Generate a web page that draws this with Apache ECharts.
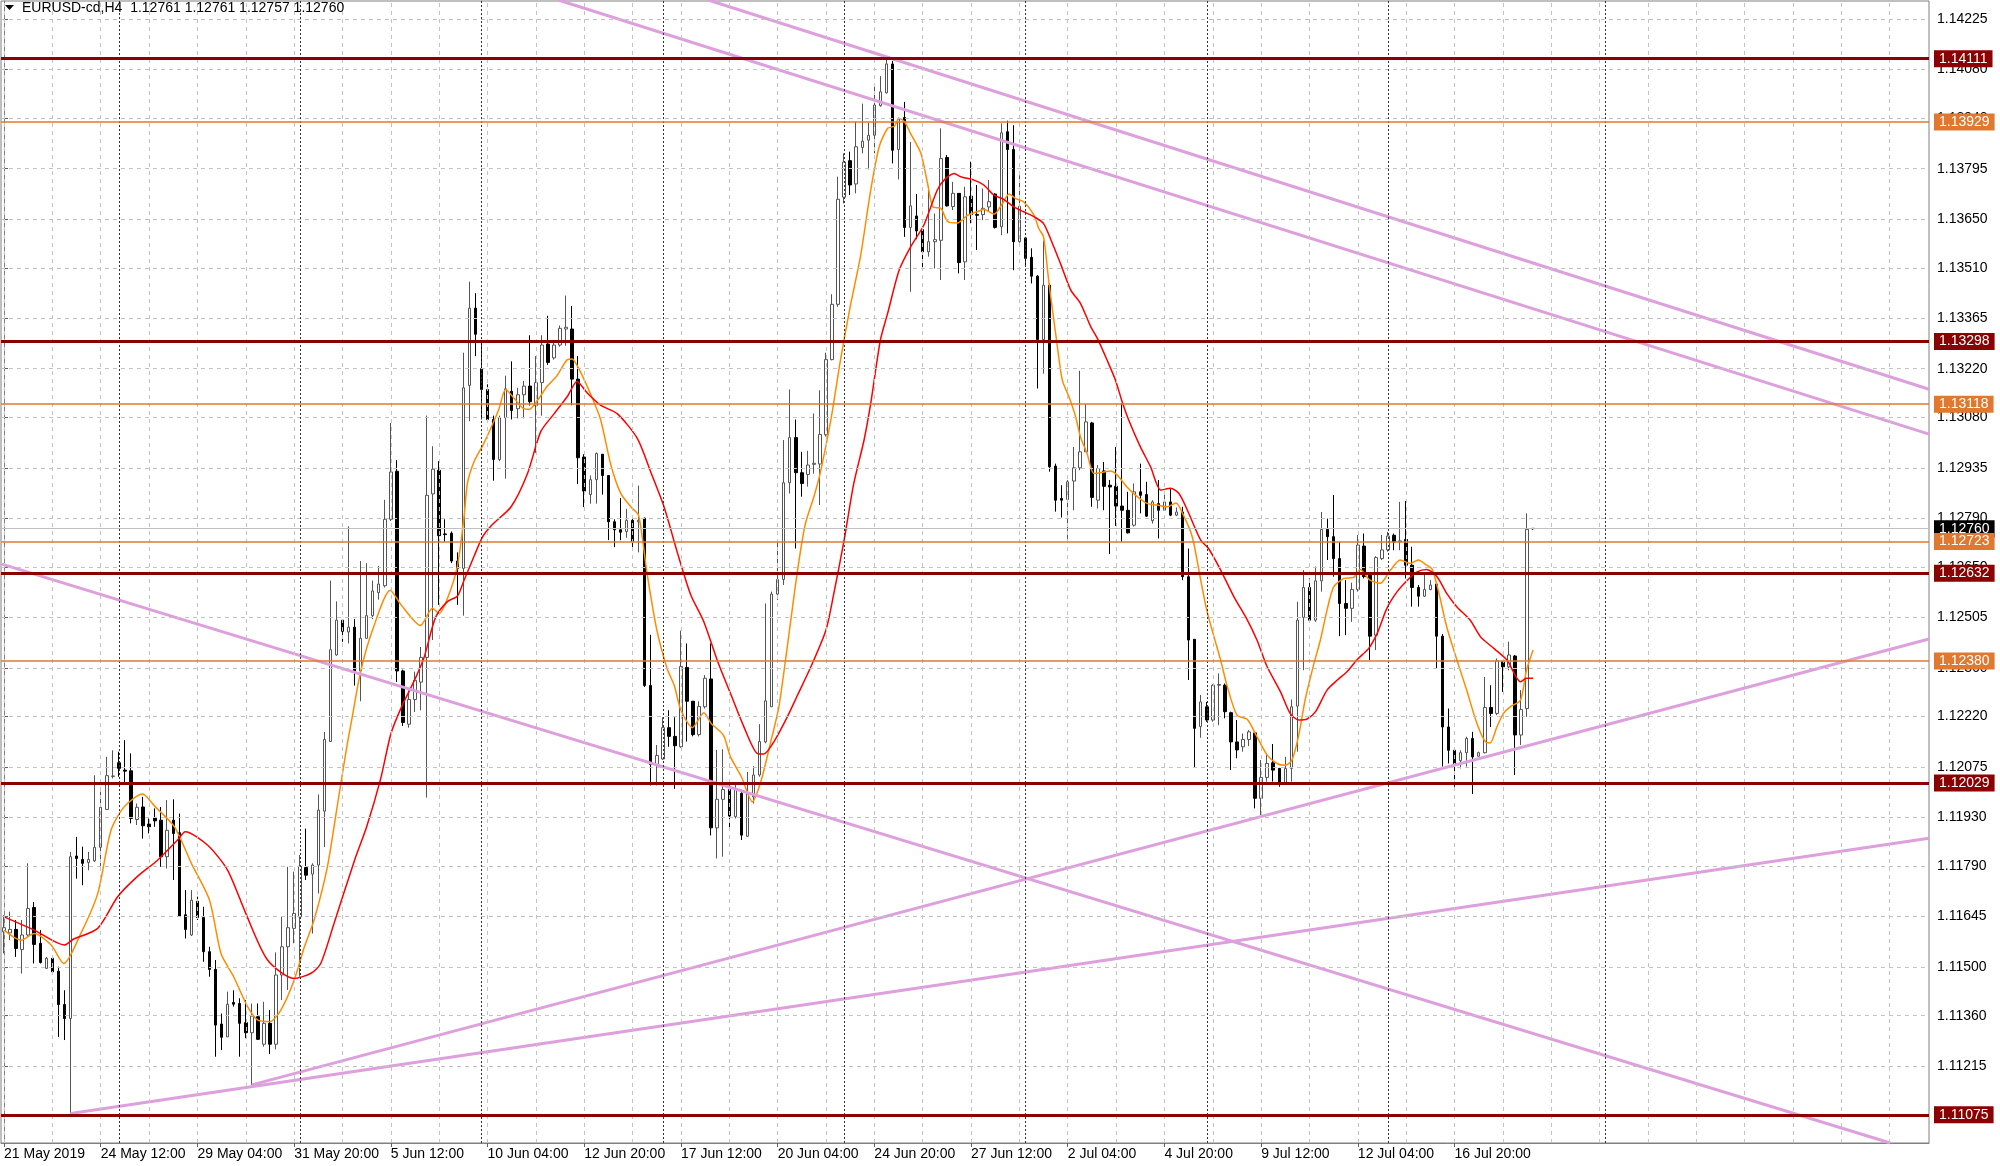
<!DOCTYPE html>
<html><head><meta charset="utf-8">
<script src="https://cdn.jsdelivr.net/npm/echarts@6/dist/echarts.min.js"></script>
<style>html,body{margin:0;padding:0;background:#fff}#c{width:2000px;height:1166px}</style>
</head><body><div id="c"></div>
<script>
// ---- data (EURUSD-cd, H4) ----
const symbolName = 'EURUSD-cd,H4';
const open = [
1.11601,1.11598,1.11608,1.11550,1.11592,1.11671,1.11568,1.11496,1.11525,1.11488,
1.11392,1.11352,1.11819,1.11809,1.11800,1.11805,1.11844,1.11953,1.12048,1.12087,
1.12066,1.12064,1.11924,1.11960,1.11911,1.11930,1.11922,1.11817,1.11922,1.11886,
1.11650,1.11592,1.11689,1.11642,1.11544,1.11493,1.11336,1.11299,1.11398,1.11395,
1.11340,1.11311,1.11357,1.11278,1.11338,1.11278,1.11477,1.11558,1.11611,1.11644,
1.11786,1.11767,1.11793,1.11948,1.12148,1.12397,1.12497,1.12463,1.12477,1.12351,
1.12445,1.12510,1.12576,1.12596,1.12787,1.12925,1.12351,1.12198,1.12269,1.12319,
1.12390,1.12860,1.12928,1.12745,1.12747,1.12667,1.12646,1.13172,1.13394,1.13220,
1.13160,1.13074,1.12959,1.13079,1.13155,1.13105,1.13145,1.13170,1.13114,1.13180,
1.13291,1.13251,1.13288,1.13334,1.13334,1.13190,1.12966,1.12858,1.12901,1.12974,
1.12913,1.12780,1.12757,1.12752,1.12784,1.12780,1.12790,1.12309,1.12082,1.12098,
1.12188,1.12163,1.12133,1.12361,1.12264,1.12168,1.12248,1.12328,1.11900,1.11982,
1.12010,1.11932,1.11999,1.11876,1.11989,1.12052,1.12147,1.12248,1.12572,1.12614,
1.12892,1.13022,1.12921,1.12916,1.12945,1.12946,1.13030,1.13246,1.13405,1.13713,
1.13818,1.13751,1.13856,1.13877,1.13891,1.13976,1.14013,1.14096,1.13850,1.13942,
1.13626,1.13659,1.13620,1.13556,1.13585,1.13589,1.13827,1.13686,1.13724,1.13527,
1.13716,1.13663,1.13663,1.13685,1.13722,1.13628,1.13901,1.13850,1.13585,1.13596,
1.13540,1.13486,1.13304,1.13460,1.12940,1.12847,1.12844,1.12897,1.12935,1.12981,
1.13064,1.12842,1.12926,1.12885,1.12882,1.12825,1.12813,1.12770,1.12866,1.12858,
1.12783,1.12832,1.12813,1.12837,1.12799,1.12808,1.12622,1.12442,1.12191,1.12248,
1.12210,1.12310,1.12310,1.12231,1.12147,1.12133,1.12154,1.12173,1.11985,1.12045,
1.12087,1.12071,1.12028,1.12071,1.12250,1.12505,1.12591,1.12497,1.12610,1.12758,
1.12737,1.12674,1.12545,1.12531,1.12585,1.12710,1.12627,1.12454,1.12674,1.12699,
1.12741,1.12722,1.12729,1.12655,1.12591,1.12566,1.12585,1.12601,1.12451,1.12190,
1.12123,1.12093,1.12116,1.12157,1.12106,1.12116,1.12246,1.12229,1.12377,1.12363,
1.12394,1.12167,1.12243,1.12761];
const high = [
1.11649,1.11659,1.11635,1.11635,1.11798,1.11687,1.11606,1.11529,1.11529,1.11501,
1.11433,1.11831,1.11874,1.11846,1.11831,1.12051,1.12004,1.12104,1.12123,1.12119,
1.12152,1.12114,1.11970,1.11989,1.11927,1.11956,1.11960,1.11980,1.11982,1.11941,
1.11721,1.11721,1.11702,1.11673,1.11558,1.11520,1.11366,1.11429,1.11433,1.11410,
1.11405,1.11395,1.11395,1.11400,1.11376,1.11542,1.11644,1.11788,1.11774,1.11822,
1.11898,1.11798,1.11996,1.12176,1.12611,1.12551,1.12500,1.12767,1.12500,1.12667,
1.12661,1.12611,1.12653,1.12843,1.13064,1.12957,1.12355,1.12294,1.12349,1.12420,
1.13085,1.12997,1.12954,1.12787,1.12752,1.12692,1.13266,1.13470,1.13437,1.13301,
1.13175,1.13085,1.13085,1.13200,1.13241,1.13165,1.13185,1.13316,1.13256,1.13316,
1.13372,1.13301,1.13344,1.13430,1.13400,1.13256,1.12974,1.12913,1.12979,1.12974,
1.12913,1.12787,1.12848,1.12817,1.12792,1.12884,1.12792,1.12455,1.12138,1.12218,
1.12238,1.12218,1.12467,1.12430,1.12264,1.12264,1.12339,1.12430,1.12124,1.12126,
1.12039,1.12023,1.12009,1.12061,1.12077,1.12198,1.12545,1.12579,1.12722,1.13015,
1.13160,1.13074,1.12981,1.12984,1.13091,1.13158,1.13266,1.13434,1.13772,1.13839,
1.13844,1.13930,1.13982,1.13927,1.14038,1.14061,1.14117,1.14105,1.13942,1.13987,
1.13872,1.13722,1.13628,1.13735,1.13666,1.13911,1.13834,1.13757,1.13724,1.13743,
1.13815,1.13748,1.13738,1.13762,1.13724,1.13925,1.13933,1.13920,1.13776,1.13599,
1.13566,1.13489,1.13588,1.13465,1.12947,1.12885,1.12900,1.12995,1.13214,1.13118,
1.13067,1.12943,1.12952,1.12900,1.12995,1.13120,1.12866,1.12890,1.12947,1.12895,
1.12842,1.12900,1.12861,1.12876,1.12821,1.12823,1.12703,1.12442,1.12282,1.12262,
1.12313,1.12344,1.12315,1.12234,1.12210,1.12171,1.12181,1.12176,1.12095,1.12109,
1.12141,1.12071,1.12104,1.12269,1.12550,1.12641,1.12617,1.12651,1.12808,1.12789,
1.12857,1.12722,1.12612,1.12605,1.12742,1.12746,1.12627,1.12681,1.12742,1.12751,
1.12746,1.12837,1.12840,1.12708,1.12598,1.12631,1.12612,1.12607,1.12457,1.12243,
1.12123,1.12123,1.12162,1.12176,1.12119,1.12334,1.12310,1.12387,1.12380,1.12435,
1.12397,1.12296,1.12804,1.12761];
const low = [
1.11539,1.11577,1.11529,1.11481,1.11587,1.11510,1.11510,1.11496,1.11481,1.11299,
1.11290,1.11079,1.11754,1.11735,1.11778,1.11802,1.11778,1.11951,1.12042,1.12047,
1.12032,1.11913,1.11908,1.11869,1.11884,1.11903,1.11788,1.11783,1.11750,1.11644,
1.11582,1.11589,1.11635,1.11515,1.11472,1.11242,1.11261,1.11299,1.11386,1.11242,
1.11295,1.11161,1.11290,1.11271,1.11250,1.11263,1.11405,1.11434,1.11568,1.11472,
1.11750,1.11596,1.11711,1.11845,1.12147,1.12395,1.12435,1.12430,1.12309,1.12264,
1.12445,1.12500,1.12556,1.12591,1.12782,1.12319,1.12193,1.12188,1.12233,1.12238,
1.11987,1.12440,1.12541,1.12722,1.12661,1.12541,1.12510,1.13069,1.13256,1.13074,
1.13069,1.12898,1.12954,1.12904,1.13074,1.13077,1.13077,1.13114,1.12978,1.13085,
1.13231,1.13246,1.13283,1.13286,1.13115,1.12888,1.12822,1.12832,1.12832,1.12858,
1.12727,1.12707,1.12727,1.12734,1.12697,1.12692,1.12305,1.12022,1.12022,1.12096,
1.12133,1.12012,1.12130,1.12148,1.12163,1.12163,1.12243,1.11878,1.11812,1.11817,
1.11901,1.11927,1.11865,1.11874,1.11970,1.12047,1.12143,1.12248,1.12555,1.12598,
1.12861,1.12703,1.12852,1.12881,1.12918,1.12828,1.13025,1.13244,1.13398,1.13695,
1.13719,1.13724,1.13839,1.13793,1.13839,1.13973,1.14011,1.13810,1.13764,1.13599,
1.13441,1.13592,1.13508,1.13542,1.13508,1.13475,1.13686,1.13676,1.13494,1.13475,
1.13638,1.13561,1.13647,1.13671,1.13623,1.13604,1.13609,1.13503,1.13582,1.13518,
1.13465,1.13163,1.13206,1.12924,1.12809,1.12792,1.12727,1.12813,1.12928,1.12981,
1.12823,1.12818,1.12813,1.12687,1.12768,1.12722,1.12746,1.12766,1.12804,1.12794,
1.12775,1.12732,1.12811,1.12796,1.12796,1.12612,1.12325,1.12074,1.12159,1.12205,
1.12205,1.12195,1.12215,1.12066,1.12100,1.12119,1.12135,1.11956,1.11937,1.12033,
1.12033,1.12018,1.12028,1.12033,1.12119,1.12353,1.12492,1.12492,1.12579,1.12670,
1.12622,1.12451,1.12454,1.12492,1.12579,1.12617,1.12382,1.12411,1.12670,1.12694,
1.12698,1.12698,1.12617,1.12536,1.12536,1.12564,1.12583,1.12358,1.12076,1.12085,
1.12018,1.12071,1.12076,1.11997,1.12104,1.12114,1.12190,1.12224,1.12291,1.12353,
1.12052,1.12138,1.12219,1.12757];
const close = [
1.11613,1.11608,1.11553,1.11592,1.11668,1.11565,1.11513,1.11525,1.11486,1.11392,
1.11352,1.11817,1.11812,1.11798,1.11809,1.11844,1.11959,1.12050,1.12049,1.12071,
1.12063,1.11927,1.11959,1.11906,1.11903,1.11920,1.11817,1.11893,1.11884,1.11646,
1.11608,1.11692,1.11642,1.11544,1.11493,1.11333,1.11298,1.11393,1.11393,1.11338,
1.11311,1.11359,1.11292,1.11338,1.11278,1.11477,1.11558,1.11613,1.11654,1.11790,
1.11764,1.11793,1.11951,1.12154,1.12412,1.12497,1.12465,1.12477,1.12351,1.12445,
1.12510,1.12581,1.12601,1.12787,1.12923,1.12351,1.12203,1.12269,1.12324,1.12390,
1.12856,1.12931,1.12740,1.12743,1.12667,1.12646,1.13165,1.13394,1.13319,1.13160,
1.13074,1.12959,1.13079,1.13162,1.13100,1.13145,1.13170,1.13125,1.13180,1.13288,
1.13238,1.13288,1.13336,1.13339,1.13190,1.12964,1.12868,1.12901,1.12976,1.12913,
1.12780,1.12757,1.12750,1.12784,1.12723,1.12784,1.12309,1.12082,1.12108,1.12188,
1.12163,1.12136,1.12364,1.12264,1.12168,1.12249,1.12330,1.11900,1.11982,1.12010,
1.11934,1.12010,1.11879,1.11999,1.12052,1.12148,1.12265,1.12572,1.12614,1.12892,
1.13022,1.12921,1.12890,1.12943,1.12948,1.13031,1.13246,1.13405,1.13707,1.13814,
1.13748,1.13858,1.13874,1.13891,1.13978,1.14016,1.14096,1.13848,1.13938,1.13626,
1.13688,1.13616,1.13556,1.13585,1.13591,1.13824,1.13688,1.13724,1.13525,1.13714,
1.13663,1.13661,1.13681,1.13700,1.13626,1.13898,1.13850,1.13585,1.13687,1.13537,
1.13486,1.13304,1.13460,1.12938,1.12842,1.12842,1.12895,1.12935,1.12981,1.13067,
1.12850,1.12933,1.12882,1.12880,1.12825,1.12813,1.12748,1.12866,1.12856,1.12796,
1.12837,1.12813,1.12837,1.12799,1.12808,1.12622,1.12440,1.12186,1.12262,1.12210,
1.12310,1.12312,1.12234,1.12147,1.12124,1.12154,1.12176,1.11985,1.12045,1.12085,
1.12066,1.12028,1.12071,1.12248,1.12497,1.12591,1.12497,1.12610,1.12758,1.12737,
1.12674,1.12545,1.12531,1.12585,1.12713,1.12622,1.12451,1.12677,1.12699,1.12739,
1.12722,1.12725,1.12655,1.12591,1.12566,1.12585,1.12598,1.12451,1.12190,1.12123,
1.12085,1.12116,1.12157,1.12104,1.12116,1.12246,1.12229,1.12380,1.12363,1.12397,
1.12167,1.12240,1.12758,1.12760];

// moving averages: [bar, price]
const maFast = [[0,1.11606],[2.8,1.11577],[5,1.11596],[7.8,1.11563],[9.9,1.11510],[12.7,1.11596],[15.5,1.11711],[17.7,1.11893],[19.9,1.11961],[22.9,1.11997],[25,1.11961],[28.2,1.11903],[31,1.11798],[34,1.11692],[35.9,1.11539],[38,1.11472],[40.3,1.11386],[42,1.11347],[44,1.11343],[45.8,1.11376],[48,1.11462],[49.7,1.11558],[51.3,1.11635],[53.5,1.11788],[55.2,1.11970],[56.8,1.12142],[57.4,1.12198],[59,1.12349],[61,1.12470],[63.9,1.12583],[65.7,1.12541],[68.9,1.12482],[70.9,1.12531],[72,1.12516],[73.4,1.12561],[75,1.12651],[76.1,1.12792],[76.7,1.12893],[77.8,1.12954],[79.2,1.12999],[80.8,1.13059],[81.9,1.13105],[83,1.13160],[84.4,1.13135],[85.8,1.13107],[86.9,1.13103],[88.3,1.13130],[89.9,1.13170],[91.5,1.13200],[93.2,1.13246],[94,1.13248],[95.1,1.13220],[97.1,1.13145],[98.7,1.13074],[100.4,1.12944],[102,1.12863],[103.7,1.12823],[105,1.12798],[106.4,1.12631],[108,1.12470],[109.7,1.12359],[110.9,1.12309],[112,1.12238],[113.9,1.12188],[115.8,1.12231],[117,1.12200],[119,1.12167],[120.2,1.12104],[122,1.12047],[123.8,1.11975],[125.2,1.12032],[126.8,1.12143],[128.2,1.12248],[129.6,1.12421],[131.3,1.12641],[132.6,1.12775],[134,1.12852],[135.1,1.12924],[136.8,1.13072],[138.4,1.13245],[140,1.13398],[141.7,1.13542],[143.4,1.13733],[144.8,1.13858],[146.2,1.13911],[147.3,1.13917],[148.1,1.13939],[149,1.13930],[150,1.13896],[151.7,1.13839],[152.8,1.13753],[153.7,1.13685],[155,1.13681],[156.2,1.13642],[157.8,1.13639],[159.4,1.13661],[161,1.13671],[162.1,1.13678],[163.8,1.13664],[165.2,1.13695],[166.3,1.13722],[167.4,1.13709],[168.7,1.13700],[170.4,1.13662],[171.2,1.13623],[172,1.13599],[172.9,1.13465],[174,1.13321],[175.1,1.13187],[176.2,1.13139],[177.3,1.13082],[178.1,1.13024],[179.2,1.12976],[180.3,1.12919],[181.4,1.12921],[183.1,1.12926],[184.2,1.12914],[185.8,1.12880],[187.5,1.12852],[189.2,1.12832],[190.8,1.12828],[192.5,1.12823],[193.9,1.12834],[195,1.12804],[196.6,1.12737],[198,1.12612],[199,1.12526],[200.2,1.12449],[201.3,1.12382],[202.4,1.12306],[204,1.12224],[205.7,1.12212],[207.3,1.12162],[209,1.12109],[210.6,1.12085],[212,1.12080],[213.1,1.12095],[214.2,1.12165],[215.3,1.12270],[216.7,1.12370],[217.8,1.12440],[218.9,1.12526],[220,1.12593],[221.7,1.12617],[223.3,1.12620],[224.4,1.12643],[226,1.12612],[227.7,1.12603],[229.4,1.12641],[231,1.12670],[232.7,1.12660],[234,1.12670],[235.4,1.12655],[236.3,1.12643],[237.3,1.12583],[238.7,1.12478],[240.4,1.12382],[242,1.12296],[243.7,1.12200],[245.1,1.12147],[245.9,1.12144],[247,1.12190],[248.1,1.12229],[249.2,1.12248],[250.9,1.12267],[251.9,1.12353],[253,1.12411]];
const maSlow = [[0,1.11644],[5,1.11606],[10,1.11563],[11.4,1.11579],[15.5,1.11611],[18.8,1.11702],[22,1.11759],[25.4,1.11807],[28.7,1.11865],[30,1.11889],[33.7,1.11850],[37,1.11778],[40,1.11654],[43.6,1.11520],[48,1.11467],[50.8,1.11482],[52.4,1.11510],[54.6,1.11625],[58,1.11807],[60,1.11903],[62.3,1.12040],[64,1.12170],[65.7,1.12245],[67.9,1.12324],[69.5,1.12390],[71.4,1.12505],[73.4,1.12551],[75,1.12566],[76.1,1.12611],[77.8,1.12682],[79.2,1.12737],[80.8,1.12772],[83.9,1.12823],[86.6,1.12918],[88.8,1.13039],[91,1.13090],[93.2,1.13140],[94.8,1.13183],[96.5,1.13150],[98.7,1.13115],[101.5,1.13090],[104.8,1.13019],[107,1.12923],[109.2,1.12823],[111.4,1.12692],[113.6,1.12571],[115.8,1.12492],[118,1.12382],[120.2,1.12286],[122.4,1.12191],[124.6,1.12114],[125.7,1.12112],[127.4,1.12148],[129.6,1.12219],[131.3,1.12282],[133.5,1.12363],[136,1.12469],[137.3,1.12574],[139,1.12727],[140.6,1.12890],[142.3,1.13015],[143.4,1.13120],[145,1.13302],[146.2,1.13379],[148.1,1.13503],[150,1.13570],[152.2,1.13633],[154.4,1.13733],[155.8,1.13767],[157.2,1.13781],[158.3,1.13772],[160.5,1.13762],[162.1,1.13748],[163.8,1.13719],[165.4,1.13707],[167.1,1.13685],[168.7,1.13671],[170.4,1.13657],[172,1.13637],[173.7,1.13570],[174.8,1.13522],[176.5,1.13446],[178.1,1.13408],[179.8,1.13341],[180.9,1.13307],[182.5,1.13245],[183.9,1.13187],[185,1.13125],[186.1,1.13072],[188,1.12996],[189.7,1.12938],[191.4,1.12871],[193,1.12876],[194.4,1.12861],[195.8,1.12813],[198,1.12727],[199.3,1.12703],[201.3,1.12641],[203.5,1.12564],[205.7,1.12498],[207.3,1.12440],[209,1.12363],[211.2,1.12291],[212.8,1.12229],[214.2,1.12210],[215.6,1.12213],[217,1.12234],[218.9,1.12296],[220.6,1.12325],[222.2,1.12349],[223.9,1.12384],[225.8,1.12416],[227.2,1.12459],[228.8,1.12531],[230.5,1.12579],[232.2,1.12612],[233.8,1.12636],[235.4,1.12643],[237.1,1.12622],[238.7,1.12574],[240.4,1.12535],[242.6,1.12497],[244.3,1.12449],[246.5,1.12416],[248.7,1.12382],[250.9,1.12320],[251.9,1.12330],[253,1.12330]];

// drawn objects
const trendLines = [
  [[116.5, 1.14280], [318.5, 1.13161]],
  [[91.7, 1.14280], [318.5, 1.13032]],
  [[-0.5, 1.12659], [312.1, 1.10994]],
  [[41, 1.11161], [318.5, 1.12443]],
  [[11, 1.11079], [318.5, 1.11870]]
];
const majorLevels = [1.14111, 1.13298, 1.12632, 1.12029, 1.11075];
const minorLevels = [1.13929, 1.13118, 1.12723, 1.12380];
const bidPrice = 1.12760;

// axes
const xLabels = ['21 May 2019','24 May 12:00','29 May 04:00','31 May 20:00','5 Jun 12:00','10 Jun 04:00','12 Jun 20:00','17 Jun 12:00','20 Jun 04:00','24 Jun 20:00','27 Jun 12:00','2 Jul 04:00','4 Jul 20:00','9 Jul 12:00','12 Jul 04:00','16 Jul 20:00'];
const yTickLabels = ['1.14225','1.14080','1.13940','1.13795','1.13650','1.13510','1.13365','1.13220','1.13080','1.12935','1.12790','1.12650','1.12505','1.12360','1.12220','1.12075','1.11930','1.11790','1.11645','1.11500','1.11360','1.11215','1.11070'];
const weekSeparators = [19, 49, 79, 109, 139, 169, 199, 229, 265];
const labelStep = 16, gridStep = 8, futureBars = 65;
const yMin = 1.10994, yMax = 1.14277;

// ---- build ----
const nBars = open.length;
const nCats = nBars + futureBars;
const categories = Array.from({length: nCats}, (_, i) => String(i));
const candles = open.map((o, i) => [o, close[i], low[i], high[i]]);
const yTickValues = yTickLabels.map(parseFloat);
const gridX = [];
for (let i = 0; i < nCats; i += gridStep) gridX.push(i);
const FONT = '"Liberation Sans", Arial, sans-serif';
const DARKRED = '#8b0000', ORANGE = '#e0782f';
const isLabel = (idx) => idx % labelStep === 0 && idx / labelStep < xLabels.length;

const levelItem = (v, color, width, bg) => ({
  yAxis: v,
  lineStyle: {color: color, width: width, type: 'solid'},
  label: {show: true, position: 'end', distance: 5, formatter: v.toFixed(5),
    backgroundColor: bg, color: '#fff', padding: [2, 5, 1, 5], fontSize: 14, fontFamily: FONT}
});

const series = [
  { // grid + separators
    type: 'line', xAxisIndex: 1, yAxisIndex: 0, data: [], silent: true, z: 1,
    markLine: {
      symbol: ['none', 'none'], silent: true, animation: false, precision: 6, label: {show: false},
      data: [
        ...gridX.map(v => ({xAxis: v, lineStyle: {color: '#c4c4c4', type: [4, 4], width: 1}})),
        ...yTickValues.map(v => ({yAxis: v, lineStyle: {color: '#c4c4c4', type: [4, 4], width: 1}})),
        ...weekSeparators.map(v => ({xAxis: v, lineStyle: {color: '#303030', type: [2, 2], width: 1}}))
      ]
    }
  },
  {
    type: 'candlestick', name: symbolName, xAxisIndex: 0, yAxisIndex: 0, data: candles, z: 2,
    barWidth: 3,
    itemStyle: {color: '#ffffff', color0: '#000000', borderColor: '#555555', borderColor0: '#000000', borderWidth: 1}
  },
  {
    type: 'line', name: 'MA fast', xAxisIndex: 1, yAxisIndex: 0, data: maFast, symbol: 'none', smooth: 0.25,
    lineStyle: {color: '#ff8c00', width: 1.5}, z: 3, silent: true
  },
  {
    type: 'line', name: 'MA slow', xAxisIndex: 1, yAxisIndex: 0, data: maSlow, symbol: 'none', smooth: 0.25,
    lineStyle: {color: '#ff0000', width: 1.5}, z: 3, silent: true
  },
  ...trendLines.map(t => ({
    type: 'line', xAxisIndex: 1, yAxisIndex: 0, data: t, symbol: 'none', silent: true,
    lineStyle: {color: '#dda0dd', width: 3}, z: 4
  })),
  {
    type: 'line', xAxisIndex: 1, yAxisIndex: 0, data: [], silent: true, z: 5,
    markLine: {
      symbol: ['none', 'none'], silent: true, animation: false, precision: 6,
      data: [
        {yAxis: bidPrice, lineStyle: {color: '#c0c0c0', width: 1, type: 'solid'},
          label: {show: true, position: 'end', distance: 5, formatter: bidPrice.toFixed(5), backgroundColor: '#000',
            color: '#fff', padding: [2, 5, 1, 5], fontSize: 14, fontFamily: FONT}},
        ...minorLevels.map(v => levelItem(v, ORANGE, 1.5, ORANGE)),
        ...majorLevels.map(v => levelItem(v, DARKRED, 3, DARKRED))
      ]
    }
  }
];

const last = nBars - 1;
const titleText = symbolName + '  ' + [open[last], high[last], low[last], close[last]].map(v => v.toFixed(5)).join(' ');

const option = {
  animation: false,
  backgroundColor: '#ffffff',
  grid: {left: 1, right: 71, top: 1, bottom: 23, show: true, borderColor: '#808080', borderWidth: 1,
    backgroundColor: 'transparent', containLabel: false, outerBoundsMode: 'none'},
  xAxis: [
    {
      type: 'category', data: categories, boundaryGap: true, position: 'bottom',
      axisLine: {show: true, lineStyle: {color: '#808080'}},
      axisTick: {show: true, alignWithLabel: true, interval: (i) => isLabel(i), length: 4, lineStyle: {color: '#606060'}},
      axisLabel: {show: true, interval: (i) => isLabel(i), formatter: (v, i) => isLabel(i) ? xLabels[i / labelStep] : '',
        align: 'left', color: '#000', fontSize: 14, fontFamily: FONT, margin: 4},
      splitLine: {show: false}
    },
    {type: 'value', min: -0.5, max: nCats - 0.5, show: false, splitLine: {show: false}}
  ],
  yAxis: [{
    type: 'value', position: 'right', min: yMin, max: yMax, scale: true,
    axisLine: {show: true, lineStyle: {color: '#808080'}},
    axisTick: {show: true, length: 4, customValues: yTickValues, lineStyle: {color: '#606060'}},
    axisLabel: {show: true, customValues: yTickValues, formatter: (v) => v.toFixed(5), color: '#000',
      fontSize: 14, fontFamily: FONT, margin: 8},
    splitLine: {show: false}
  }],
  graphic: [
    {type: 'polygon', shape: {points: [[5, 5], [14, 5], [9.5, 10]]}, style: {fill: '#000'}, z: 100},
    {type: 'text', x: 22, y: 1, z: 100, style: {text: titleText, fill: '#000', fontSize: 14, fontFamily: FONT, verticalAlign: 'top', align: 'left'}}
  ],
  series: series
};

const chart = echarts.init(document.getElementById('c'), null, {renderer: 'canvas'});
chart.setOption(option);
</script>
</body></html>
